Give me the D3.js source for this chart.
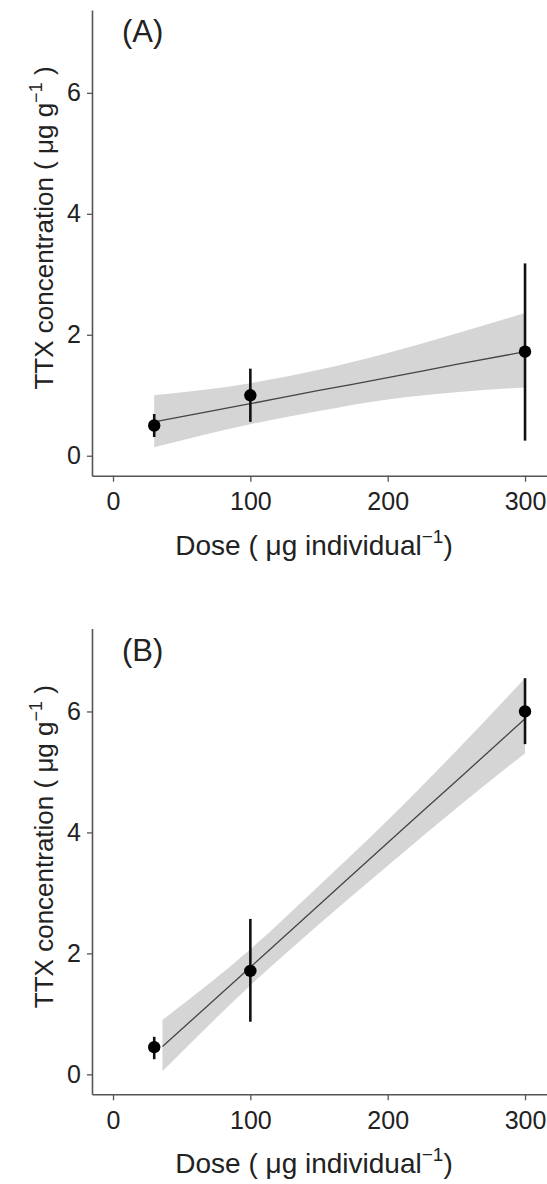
<!DOCTYPE html>
<html>
<head>
<meta charset="utf-8">
<script src="https://cdn.jsdelivr.net/npm/d3@7"></script>
<style>
  html, body { margin: 0; padding: 0; background: #fff; }
  svg { display: block; }
  text { font-family: "Liberation Sans", Arial, sans-serif; }
</style>
</head>
<body>
<svg id="chart" width="547" height="1184"></svg>
<script>
// ---------- data ----------
const doseLevels = [30, 100, 300];
const xTicks = [0, 100, 200, 300];
const yTicks = [0, 2, 4, 6];

// Panel A observed means and error bar limits
const meanA = [0.50, 1.00, 1.72];
const lowA  = [0.31, 0.56, 0.25];
const highA = [0.69, 1.44, 3.18];
// Panel A fitted line and confidence band
const fitDoseA  = [30, 100, 150, 200, 250, 300];
const fitA      = [0.56, 0.86, 1.08, 1.29, 1.51, 1.72];
const bandLowA  = [0.14, 0.52, 0.74, 0.93, 1.05, 1.13];
const bandHighA = [1.00, 1.20, 1.42, 1.70, 2.02, 2.36];

// Panel B observed means and error bar limits
const meanB = [0.45, 1.71, 6.00];
const lowB  = [0.25, 0.87, 5.46];
const highB = [0.62, 2.57, 6.55];
// Panel B fitted line and confidence band
const fitDoseB  = [36, 100, 150, 200, 250, 300];
const fitB      = [0.46, 1.77, 2.80, 3.83, 4.85, 5.88];
const bandLowB  = [0.05, 1.47, 2.48, 3.45, 4.40, 5.31];
const bandHighB = [0.90, 2.07, 3.12, 4.20, 5.35, 6.55];

const panelLabels = ["(A)", "(B)"];

// ---------- layout ----------
const svg = d3.select("#chart");
const left = 92, right = 547;
const panels = [
  {label: panelLabels[0], top: 10, mean: meanA, low: lowA, high: highA,
   fd: fitDoseA, fit: fitA, bl: bandLowA, bh: bandHighA},
  {label: panelLabels[1], top: 628.6, mean: meanB, low: lowB, high: highB,
   fd: fitDoseB, fit: fitB, bl: bandLowB, bh: bandHighB}
];
const plotH = 465.7;

const x = d3.scaleLinear().domain([-15.3, 316]).range([left, right]);

panels.forEach(p => {
  const y = d3.scaleLinear().domain([-0.33, 7.37]).range([p.top + plotH, p.top]);
  const g = svg.append("g");

  // band
  const band = p.fd.map((d, i) => ({d, lo: p.bl[i], hi: p.bh[i]}));
  g.append("path").datum(band)
    .attr("fill", "#d5d5d5")
    .attr("d", d3.area().curve(d3.curveMonotoneX)
      .x(d => x(d.d)).y0(d => y(d.lo)).y1(d => y(d.hi)));

  // fitted line
  const fl = p.fd.map((d, i) => ({d, v: p.fit[i]}));
  g.append("path").datum(fl)
    .attr("fill", "none").attr("stroke", "#444").attr("stroke-width", 1.3)
    .attr("d", d3.line().curve(d3.curveMonotoneX).x(d => x(d.d)).y(d => y(d.v)));

  // error bars
  g.selectAll("line.err").data(doseLevels).enter().append("line")
    .attr("x1", d => x(d)).attr("x2", d => x(d))
    .attr("y1", (d, i) => y(p.low[i])).attr("y2", (d, i) => y(p.high[i]))
    .attr("stroke", "#111").attr("stroke-width", 2.6);

  // points
  g.selectAll("circle").data(doseLevels).enter().append("circle")
    .attr("cx", d => x(d)).attr("cy", (d, i) => y(p.mean[i]))
    .attr("r", 6.2).attr("fill", "#000");

  // axes
  const ya = g.append("g").attr("transform", `translate(${left},0)`)
    .call(d3.axisLeft(y).tickValues(yTicks).tickSize(5).tickSizeOuter(0).tickPadding(6));
  const xa = g.append("g").attr("transform", `translate(0,${p.top + plotH})`)
    .call(d3.axisBottom(x).tickValues(xTicks).tickSize(6).tickSizeOuter(0).tickPadding(11));
  [ya, xa].forEach(a => {
    a.select(".domain").attr("stroke", "#555").attr("stroke-width", 1.6);
    a.selectAll(".tick line").attr("stroke", "#555").attr("stroke-width", 1.3);
    a.selectAll(".tick text").attr("fill", "#222")
      .style("font-family", "'Liberation Sans', Arial, sans-serif").style("font-size", "25px");
  });

  // panel label
  g.append("text").attr("x", 122).attr("y", p.top + 32)
    .attr("font-size", 31).attr("fill", "#222").text(p.label);

  // y title
  const yt = g.append("text")
    .attr("transform", `translate(53,${p.top + 218}) rotate(-90)`)
    .attr("text-anchor", "middle").attr("font-size", 26).attr("fill", "#222");
  yt.append("tspan").text("TTX concentration ( μg g");
  yt.append("tspan").attr("dy", -11).attr("font-size", 18).text("−1");
  yt.append("tspan").attr("dy", 11).text(" )");

  // x title
  const xt = g.append("text")
    .attr("x", 314).attr("y", p.top + plotH + 79)
    .attr("text-anchor", "middle").attr("font-size", 28).attr("fill", "#222");
  xt.append("tspan").text("Dose ( μg individual");
  xt.append("tspan").attr("dy", -12).attr("font-size", 19).text("−1");
  xt.append("tspan").attr("dy", 12).text(")");
});
</script>
</body>
</html>
